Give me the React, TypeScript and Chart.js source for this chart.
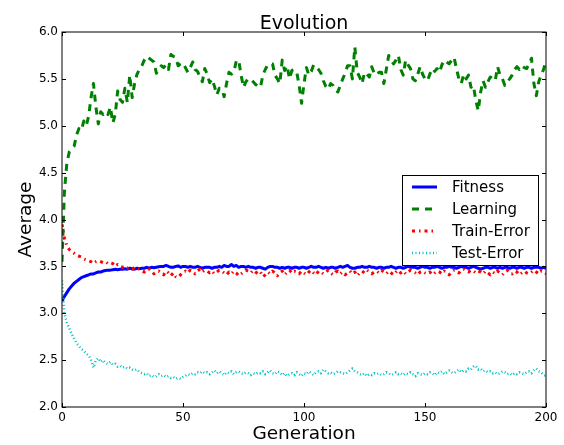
import React, { useEffect, useRef } from "react";
import { Chart, registerables } from "chart.js";

Chart.register(...registerables);

const FONT = '"DejaVu Sans", sans-serif';

const xTicks = [0, 50, 100, 150, 200];
const yTicks = [2.0, 2.5, 3.0, 3.5, 4.0, 4.5, 5.0, 5.5, 6.0];

const seriesNames = ["Fitness", "Learning", "Train-Error", "Test-Error"];

const fitness = [
  3.13, 3.18, 3.22, 3.26, 3.29, 3.32, 3.34, 3.36, 3.38, 3.39,
  3.40, 3.41, 3.42, 3.42, 3.43, 3.44, 3.44, 3.45, 3.455, 3.46,
  3.46, 3.465, 3.47, 3.465, 3.47, 3.47, 3.475, 3.47, 3.48, 3.475,
  3.47, 3.48, 3.475, 3.48, 3.48, 3.49, 3.48, 3.49, 3.485, 3.49,
  3.495, 3.50, 3.50, 3.51, 3.50, 3.49, 3.49, 3.50, 3.505, 3.49,
  3.50, 3.5, 3.49, 3.5, 3.49, 3.49, 3.5, 3.49, 3.48, 3.49,
  3.49, 3.49, 3.48, 3.49, 3.49, 3.5, 3.49, 3.51, 3.5, 3.5,
  3.52, 3.5, 3.51, 3.49, 3.5, 3.5, 3.49, 3.5, 3.49, 3.49,
  3.48, 3.49, 3.49, 3.48, 3.47, 3.49, 3.5, 3.5, 3.49, 3.49,
  3.48, 3.49, 3.48, 3.49, 3.49, 3.48, 3.49, 3.49, 3.48, 3.49,
  3.49, 3.48, 3.49, 3.5, 3.49, 3.49, 3.5, 3.49, 3.48, 3.49,
  3.48, 3.49, 3.49, 3.48, 3.49, 3.5, 3.49, 3.5, 3.51, 3.49,
  3.48, 3.48, 3.49, 3.49, 3.5, 3.49, 3.49, 3.5, 3.49, 3.49,
  3.48, 3.49, 3.49, 3.48, 3.49, 3.49, 3.5, 3.49, 3.48, 3.49,
  3.49, 3.48, 3.49, 3.5, 3.49, 3.49, 3.49, 3.48, 3.49, 3.5,
  3.49, 3.49, 3.48, 3.49, 3.49, 3.5, 3.49, 3.48, 3.49, 3.49,
  3.5, 3.49, 3.49, 3.48, 3.49, 3.5, 3.49, 3.49, 3.48, 3.49,
  3.5, 3.49, 3.48, 3.47, 3.48, 3.49, 3.49, 3.48, 3.49, 3.49,
  3.48, 3.49, 3.48, 3.49, 3.49, 3.48, 3.49, 3.49, 3.48, 3.49,
  3.49, 3.48, 3.49, 3.49, 3.48, 3.49, 3.49, 3.49, 3.48, 3.49,
  3.48,
];

const learning = [
  3.55, 4.3, 4.6, 4.72, 4.75, 4.78, 4.9, 4.97, 4.95, 5.05,
  5.0, 5.1, 5.3, 5.45, 5.2, 5.02, 5.15, 5.12, 5.15, 5.12,
  5.2, 5.03, 5.12, 5.37, 5.28, 5.25, 5.4, 5.25, 5.54, 5.3,
  5.45, 5.55, 5.6, 5.64, 5.7, 5.74, 5.72, 5.7, 5.68, 5.56,
  5.6, 5.64, 5.62, 5.65, 5.6, 5.76, 5.74, 5.73, 5.64, 5.66,
  5.67, 5.62, 5.57, 5.62, 5.68, 5.6, 5.58, 5.52, 5.47, 5.61,
  5.55, 5.46, 5.5, 5.42, 5.33, 5.4, 5.39, 5.31, 5.45, 5.57,
  5.55, 5.57, 5.69, 5.7, 5.54, 5.41, 5.47, 5.5, 5.5, 5.47,
  5.44, 5.42, 5.41, 5.54, 5.6, 5.65, 5.66, 5.66, 5.54, 5.5,
  5.45, 5.7, 5.59, 5.64, 5.5, 5.59, 5.6, 5.57, 5.43, 5.24,
  5.45, 5.62, 5.54, 5.58, 5.65, 5.63, 5.6, 5.56, 5.48, 5.42,
  5.39, 5.45, 5.43, 5.38, 5.36, 5.43, 5.5, 5.56, 5.64, 5.64,
  5.5, 5.84, 5.57, 5.52, 5.45, 5.57, 5.55, 5.52, 5.63, 5.56,
  5.54, 5.57, 5.57, 5.45, 5.6, 5.75, 5.7, 5.66, 5.7, 5.75,
  5.6, 5.54, 5.7, 5.65, 5.61, 5.5, 5.48, 5.55, 5.63, 5.55,
  5.5, 5.48, 5.55, 5.61, 5.58, 5.61, 5.57, 5.65, 5.7, 5.68,
  5.66, 5.7, 5.73, 5.61, 5.5, 5.45, 5.55, 5.5, 5.54, 5.41,
  5.43, 5.27, 5.16, 5.36, 5.48, 5.41, 5.47, 5.52, 5.5, 5.48,
  5.63, 5.54, 5.5, 5.43, 5.47, 5.5, 5.54, 5.6, 5.63, 5.6,
  5.64, 5.62, 5.61, 5.66, 5.72, 5.45, 5.32, 5.47, 5.54, 5.6,
  5.7,
];

const trainError = [
  3.95, 3.8, 3.72, 3.68, 3.66, 3.64, 3.62, 3.61, 3.6, 3.58,
  3.57, 3.56, 3.55, 3.53, 3.55, 3.56, 3.55, 3.54, 3.55, 3.53,
  3.54, 3.53, 3.5, 3.52, 3.5, 3.49, 3.5, 3.48, 3.49, 3.47,
  3.49, 3.48, 3.47, 3.45, 3.44, 3.45, 3.47, 3.45, 3.42, 3.44,
  3.45, 3.43, 3.41, 3.45, 3.43, 3.4, 3.43, 3.39, 3.38, 3.41,
  3.44, 3.45, 3.43, 3.46, 3.44, 3.42, 3.45, 3.47, 3.44, 3.46,
  3.45, 3.43, 3.45, 3.42, 3.44, 3.46, 3.45, 3.43, 3.41, 3.44,
  3.42, 3.45, 3.43, 3.4, 3.42, 3.44, 3.46, 3.45, 3.43, 3.46,
  3.44, 3.42, 3.44, 3.39, 3.41, 3.44, 3.42, 3.45, 3.43, 3.4,
  3.43, 3.45, 3.41, 3.44, 3.46, 3.43, 3.45, 3.44, 3.42, 3.45,
  3.43, 3.41, 3.44, 3.46, 3.43, 3.41, 3.45, 3.44, 3.42, 3.44,
  3.46, 3.43, 3.41, 3.44, 3.45, 3.42, 3.44, 3.41, 3.43, 3.45,
  3.42, 3.44, 3.4, 3.43, 3.45, 3.43, 3.46, 3.44, 3.42, 3.44,
  3.45, 3.43, 3.46, 3.44, 3.42, 3.45, 3.43, 3.41, 3.44, 3.46,
  3.43, 3.45, 3.42, 3.44, 3.46, 3.44, 3.43, 3.41, 3.44, 3.45,
  3.43, 3.42, 3.44, 3.41, 3.43, 3.45, 3.44, 3.42, 3.45, 3.43,
  3.41, 3.44, 3.46, 3.45, 3.43, 3.46, 3.47, 3.45, 3.44, 3.46,
  3.45, 3.43, 3.45, 3.44, 3.42, 3.45, 3.43, 3.41, 3.44, 3.42,
  3.45, 3.43, 3.41, 3.44, 3.46, 3.43, 3.42, 3.45, 3.44, 3.41,
  3.43, 3.45, 3.43, 3.42, 3.44, 3.46, 3.44, 3.42, 3.45, 3.44,
  3.42,
];

const testError = [
  3.35, 3.0, 2.9, 2.84, 2.78, 2.73, 2.68, 2.65, 2.62, 2.6,
  2.57, 2.55, 2.5, 2.42, 2.5, 2.52, 2.48, 2.5, 2.47, 2.46,
  2.48, 2.45, 2.46, 2.43, 2.44, 2.42, 2.43, 2.41, 2.42, 2.4,
  2.39, 2.4, 2.37, 2.36, 2.35, 2.36, 2.33, 2.34, 2.32, 2.33,
  2.35, 2.33, 2.34, 2.32, 2.33, 2.31, 2.32, 2.3, 2.31, 2.3,
  2.32, 2.33, 2.35, 2.34, 2.36, 2.35, 2.37, 2.36, 2.38, 2.36,
  2.37, 2.35, 2.37, 2.39, 2.36, 2.38, 2.36, 2.34, 2.37, 2.36,
  2.38, 2.35, 2.37, 2.38, 2.36, 2.35, 2.37, 2.36, 2.34, 2.36,
  2.35, 2.37, 2.36, 2.38, 2.35, 2.37, 2.39, 2.36, 2.35, 2.38,
  2.37, 2.34, 2.36, 2.33, 2.35, 2.36, 2.34, 2.37, 2.35, 2.33,
  2.36, 2.35, 2.38, 2.36, 2.34, 2.37, 2.38, 2.36, 2.4, 2.38,
  2.36, 2.37, 2.35, 2.36, 2.38, 2.37, 2.36, 2.35, 2.37, 2.39,
  2.41, 2.38, 2.37, 2.35, 2.34, 2.36, 2.33, 2.35, 2.34, 2.36,
  2.35, 2.36, 2.34, 2.35, 2.37, 2.36, 2.34, 2.35, 2.37, 2.35,
  2.36, 2.34, 2.36, 2.35, 2.37, 2.35, 2.33, 2.36, 2.35, 2.34,
  2.36, 2.35, 2.37, 2.36, 2.34, 2.37, 2.36, 2.38, 2.35, 2.37,
  2.39, 2.37, 2.36, 2.38, 2.4, 2.37, 2.39, 2.38, 2.41, 2.4,
  2.43, 2.44, 2.4, 2.41, 2.38, 2.39, 2.37, 2.38, 2.36, 2.37,
  2.35, 2.36, 2.38, 2.37, 2.35, 2.36, 2.34, 2.36, 2.35, 2.37,
  2.36, 2.35, 2.37, 2.38, 2.36, 2.39, 2.41, 2.38, 2.37, 2.34,
  2.33,
];

const generations = fitness.map((_, i) => i);

const styles = [
  { color: "#0000ff", width: 3, dash: [] as number[] },
  { color: "#008000", width: 3, dash: [7, 6] },
  { color: "#ff0000", width: 3, dash: [3, 4, 1.5, 4] },
  { color: "#00bfbf", width: 2.5, dash: [1, 2.5] },
];

const decorPlugin = {
  id: "decor",
  afterDatasetsDraw(chart: any) {
    const { ctx, chartArea: a, scales } = chart;
    const xs = scales.x;
    const ys = scales.y;
    ctx.save();
    ctx.setLineDash([]);
    ctx.strokeStyle = "#000";
    ctx.lineWidth = 1;
    ctx.strokeRect(a.left, a.top, a.right - a.left, a.bottom - a.top);
    ctx.beginPath();
    for (const v of xTicks) {
      const px = Math.round(xs.getPixelForValue(v)) + 0.5;
      ctx.moveTo(px, a.bottom);
      ctx.lineTo(px, a.bottom - 4);
      ctx.moveTo(px, a.top);
      ctx.lineTo(px, a.top + 4);
    }
    for (const v of yTicks) {
      const py = Math.round(ys.getPixelForValue(v)) + 0.5;
      ctx.moveTo(a.left, py);
      ctx.lineTo(a.left + 4, py);
      ctx.moveTo(a.right, py);
      ctx.lineTo(a.right - 4, py);
    }
    ctx.stroke();

    const cx = (a.left + a.right) / 2;
    ctx.fillStyle = "#000";
    ctx.textAlign = "center";
    ctx.textBaseline = "alphabetic";
    ctx.font = `19px ${FONT}`;
    ctx.fillText("Evolution", cx, 28.5);
    ctx.font = `18.5px ${FONT}`;
    ctx.fillText("Generation", cx, 439);
    ctx.save();
    ctx.translate(30.5, (a.top + a.bottom) / 2);
    ctx.rotate(-Math.PI / 2);
    ctx.fillText("Average", 0, 0);
    ctx.restore();

    // legend
    const bw = 136;
    const bh = 90;
    const bx = a.right - 8 - bw;
    const by = (a.top + a.bottom) / 2 - bh / 2;
    ctx.fillStyle = "#fff";
    ctx.fillRect(bx, by, bw, bh);
    ctx.strokeStyle = "#000";
    ctx.lineWidth = 1;
    ctx.strokeRect(Math.round(bx) + 0.5, Math.round(by) + 0.5, bw, bh);
    ctx.font = `15px ${FONT}`;
    ctx.textAlign = "left";
    seriesNames.forEach((name, i) => {
      const ry = by + 12.5 + i * 22;
      const st = styles[i];
      ctx.strokeStyle = st.color;
      ctx.lineWidth = st.width;
      ctx.setLineDash(st.dash);
      ctx.lineCap = "butt";
      ctx.beginPath();
      ctx.moveTo(bx + 10, ry);
      ctx.lineTo(bx + 35, ry);
      ctx.stroke();
      ctx.setLineDash([]);
      ctx.fillStyle = "#000";
      ctx.fillText(name, bx + 50, ry + 5.3);
    });
    ctx.restore();
  },
};

export default function App() {
  const ref = useRef<HTMLCanvasElement>(null);
  useEffect(() => {
    document.body.style.margin = "0";
    const seriesValues = [fitness, learning, trainError, testError];
    const chart = new Chart(ref.current!, {
      type: "line",
      data: {
        datasets: seriesValues.map((vals, i) => ({
          label: seriesNames[i],
          data: vals.map((v, j) => ({ x: generations[j], y: v })),
          borderColor: styles[i].color,
          backgroundColor: styles[i].color,
          borderWidth: styles[i].width,
          borderDash: styles[i].dash,
          borderCapStyle: "butt",
          borderJoinStyle: "round",
          pointRadius: 0,
          tension: 0,
          fill: false,
          order: 4 - i,
        })),
      },
      options: {
        animation: false,
        responsive: false,
        maintainAspectRatio: false,
        layout: { padding: { top: 32, right: 18, left: 0, bottom: 0 } },
        plugins: {
          legend: { display: false },
          title: { display: false },
          tooltip: { enabled: false },
        },
        scales: {
          x: {
            type: "linear",
            min: 0,
            max: 200,
            afterBuildTicks: (s: any) => {
              s.ticks = xTicks.map((v) => ({ value: v }));
            },
            ticks: {
              color: "#000",
              font: { family: FONT, size: 12 },
              padding: 4,
              maxRotation: 0,
              callback: (v: any) => String(v),
            },
            grid: { display: false, drawTicks: false },
            border: { display: false },
            afterFit: (s: any) => {
              s.height = 38;
            },
          },
          y: {
            type: "linear",
            min: 2,
            max: 6,
            afterBuildTicks: (s: any) => {
              s.ticks = yTicks.map((v) => ({ value: v }));
            },
            ticks: {
              color: "#000",
              font: { family: FONT, size: 12 },
              padding: 4,
              callback: (v: any) => Number(v).toFixed(1),
            },
            grid: { display: false, drawTicks: false },
            border: { display: false },
            afterFit: (s: any) => {
              s.width = 62;
            },
          },
        },
      },
      plugins: [decorPlugin],
    });
    return () => chart.destroy();
  }, []);
  return (
    <div style={{ width: 564, height: 445 }}>
      <canvas ref={ref} width={564} height={445} style={{ display: "block" }} />
    </div>
  );
}
